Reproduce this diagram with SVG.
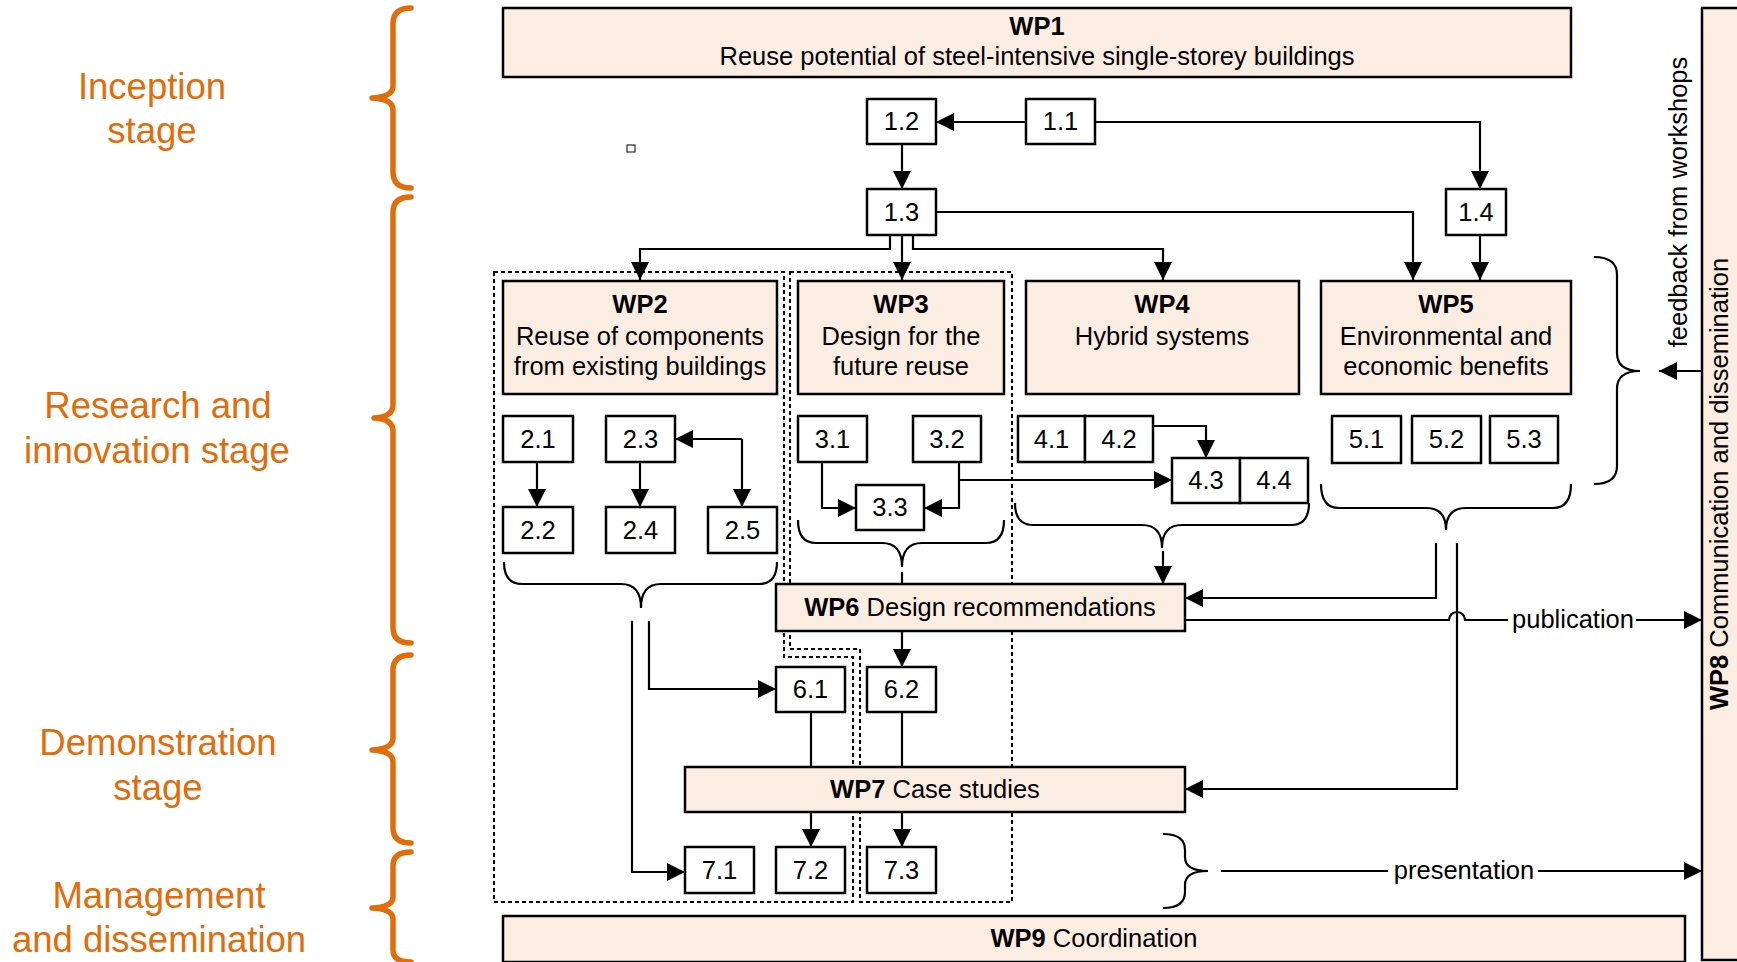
<svg xmlns="http://www.w3.org/2000/svg" width="1737" height="962" viewBox="0 0 1737 962">
<style>
.wp{fill:#FCEDE3;stroke:#000;stroke-width:2.5}
.bx{fill:#fff;stroke:#000;stroke-width:2.5}
.t{font-family:"Liberation Sans",Arial,sans-serif;font-size:25.5px;fill:#000;text-anchor:middle}
.b{font-weight:bold}
.ln{fill:none;stroke:#000;stroke-width:2.2}
.ar{marker-end:url(#ah)}
.dot{fill:none;stroke:#000;stroke-width:2;stroke-dasharray:4 3}
.or{fill:none;stroke:#E36C0A;stroke-width:5.5;stroke-linecap:round;stroke-linejoin:round}
.ot{font-family:"Liberation Sans",Arial,sans-serif;font-size:36.5px;fill:#E36C0A;text-anchor:middle}
</style>
<defs>
<marker id="ah" markerUnits="userSpaceOnUse" markerWidth="19" markerHeight="19" refX="18" refY="9" orient="auto">
<path d="M0,0 L18,9 L0,18 z" fill="#000"/>
</marker>
</defs>
<rect width="1737" height="962" fill="#fff"/>

<g id="stages">
<path class="or" d="M411,8 Q393,8 393,24 L393,86 Q393,97 372,98 Q393,99 393,110 L393,172 Q393,188 411,188"/>
<path class="or" d="M411,197 Q393,197 393,212 L393,405 Q393,417 374,418 Q393,419 393,431 L393,628 Q393,643 411,643"/>
<path class="or" d="M411,655 Q393,655 393,670 L393,738 Q393,749 372,750 Q393,751 393,762 L393,828 Q393,843 411,843"/>
<path class="or" d="M411,852 Q393,852 393,866 L393,897 Q393,907 372,908 Q393,909 393,919 L393,950 Q393,962 411,962"/>
<text class="ot" x="152" y="99">Inception</text>
<text class="ot" x="152" y="143">stage</text>
<text class="ot" x="158" y="418">Research and</text>
<text class="ot" x="157" y="463">innovation stage</text>
<text class="ot" x="158" y="755">Demonstration</text>
<text class="ot" x="158" y="800">stage</text>
<text class="ot" x="159" y="908">Management</text>
<text class="ot" x="159" y="952">and dissemination</text>
</g>

<g id="regions">
<path class="dot" d="M494,272 L784,272 L784,657 L853,657 L853,902 L494,902 Z"/>
<path class="dot" d="M790,272 L1012,272 L1012,902 L860,902 L860,649 L790,649 Z"/>
</g>

<rect x="627" y="145" width="8" height="7" fill="#fff" stroke="#000" stroke-width="1"/>

<g id="connectors">
<path class="ln ar" d="M1026,122 L936,122"/>
<path class="ln ar" d="M1095,122 L1480,122 L1480,189"/>
<path class="ln ar" d="M902,144 L902,189"/>
<path class="ln ar" d="M1480,235 L1480,280"/>
<path class="ln ar" d="M936,212 L1413,212 L1413,280"/>
<path class="ln ar" d="M890,235 L890,249 L640,249 L640,280"/>
<path class="ln ar" d="M902,235 L902,280"/>
<path class="ln ar" d="M913,235 L913,249 L1163,249 L1163,280"/>
<path class="ln ar" d="M537,462 L537,507"/>
<path class="ln ar" d="M640,462 L640,507"/>
<path class="ln ar" d="M742,439 L675,439"/>
<path class="ln ar" d="M742,439 L742,507"/>
<path class="ln ar" d="M822,462 L822,508 L856,508"/>
<path class="ln ar" d="M959,462 L959,508 L924,508"/>
<path class="ln ar" d="M959,480 L1172,480"/>
<path class="ln ar" d="M1153,426 L1206,426 L1206,458"/>
<path class="ln" d="M504,562 Q504,584 522,584 L621,584 Q641,584 641,608 Q641,584 661,584 L759,584 Q777,584 777,562"/>
<path class="ln" d="M798,520 Q798,543 816,543 L882,543 Q902,543 902,567 Q902,543 922,543 L986,543 Q1004,543 1004,520"/>
<path class="ln" d="M1015,503 Q1015,525 1033,525 L1142,525 Q1162,525 1162,548 Q1162,525 1182,525 L1291,525 Q1309,525 1309,503"/>
<path class="ln" d="M1321,484 Q1321,508 1339,508 L1426,508 Q1446,508 1446,530 Q1446,508 1466,508 L1553,508 Q1571,508 1571,484"/>
<path class="ln" d="M1594,257 Q1617,257 1617,275 L1617,353 Q1617,371 1640,371 Q1617,371 1617,389 L1617,466 Q1617,484 1594,484"/>
<path class="ln" d="M1163,834 Q1185,834 1185,850 L1185,857 Q1185,871 1208,871 Q1185,871 1185,885 L1185,892 Q1185,908 1163,908"/>
<path class="ln ar" d="M1702,371 L1659,371"/>
<path class="ln" d="M902,572 L902,584"/>
<path class="ln ar" d="M1163,551 L1163,584"/>
<path class="ln ar" d="M1436,543 L1436,598 L1185,598"/>
<path class="ln ar" d="M1457,543 L1457,789 L1185,789"/>
<path class="ln" d="M1185,620 L1449,620 A8,8 0 0 1 1465,620 L1508,620"/>
<path class="ln ar" d="M1636,620 L1702,620"/>
<path class="ln" d="M1221,871 L1388,871"/>
<path class="ln ar" d="M1538,871 L1702,871"/>
<path class="ln ar" d="M649,621 L649,689 L776,689"/>
<path class="ln ar" d="M632,621 L632,872 L685,872"/>
<path class="ln ar" d="M902,631 L902,667"/>
<path class="ln" d="M811,712 L811,767"/>
<path class="ln" d="M902,712 L902,767"/>
<path class="ln ar" d="M811,812 L811,847"/>
<path class="ln ar" d="M902,812 L902,847"/>
<text class="t" x="1573" y="628">publication</text>
<text class="t" x="1464" y="879">presentation</text>
<text class="t" transform="translate(1687,202) rotate(-90)">feedback from workshops</text>
</g>

<g id="WP1"><rect class="wp" x="503" y="8" width="1068" height="69"/><text class="t b" x="1037" y="35">WP1</text><text class="t" x="1037" y="65">Reuse potential of steel-intensive single-storey buildings</text></g>
<g id="WP2"><rect class="wp" x="503" y="281" width="274" height="113"/><text class="t b" x="640" y="313">WP2</text><text class="t" x="640" y="345">Reuse of components</text><text class="t" x="640" y="375">from existing buildings</text></g>
<g id="WP3"><rect class="wp" x="798" y="281" width="206" height="113"/><text class="t b" x="901" y="313">WP3</text><text class="t" x="901" y="345">Design for the</text><text class="t" x="901" y="375">future reuse</text></g>
<g id="WP4"><rect class="wp" x="1026" y="281" width="273" height="113"/><text class="t b" x="1162" y="313">WP4</text><text class="t" x="1162" y="345">Hybrid systems</text></g>
<g id="WP5"><rect class="wp" x="1321" y="281" width="250" height="113"/><text class="t b" x="1446" y="313">WP5</text><text class="t" x="1446" y="345">Environmental and</text><text class="t" x="1446" y="375">economic benefits</text></g>
<g id="WP6"><rect class="wp" x="776" y="584" width="409" height="47"/><text class="t" x="980" y="616"><tspan class="b">WP6</tspan> Design recommendations</text></g>
<g id="WP7"><rect class="wp" x="685" y="767" width="500" height="45"/><text class="t" x="935" y="798"><tspan class="b">WP7</tspan> Case studies</text></g>
<g id="WP8"><rect class="wp" x="1702" y="8" width="50" height="952"/><text class="t" transform="translate(1728,484) rotate(-90)"><tspan class="b">WP8</tspan> Communication and dissemination</text></g>
<g id="WP9"><rect class="wp" x="503" y="916" width="1182" height="46"/><text class="t" x="1094" y="947"><tspan class="b">WP9</tspan> Coordination</text></g>

<g id="T1.1"><rect class="bx" x="1026" y="99" width="69" height="45"/><text class="t" x="1060.5" y="130">1.1</text></g>
<g id="T1.2"><rect class="bx" x="867" y="99" width="69" height="45"/><text class="t" x="901.5" y="130">1.2</text></g>
<g id="T1.3"><rect class="bx" x="867" y="189" width="69" height="46"/><text class="t" x="901.5" y="221">1.3</text></g>
<g id="T1.4"><rect class="bx" x="1446" y="189" width="60" height="46"/><text class="t" x="1476" y="221">1.4</text></g>
<g id="T2.1"><rect class="bx" x="503" y="416" width="70" height="46"/><text class="t" x="538" y="448">2.1</text></g>
<g id="T2.3"><rect class="bx" x="606" y="416" width="69" height="46"/><text class="t" x="640.5" y="448">2.3</text></g>
<g id="T2.2"><rect class="bx" x="503" y="507" width="70" height="46"/><text class="t" x="538" y="539">2.2</text></g>
<g id="T2.4"><rect class="bx" x="606" y="507" width="69" height="46"/><text class="t" x="640.5" y="539">2.4</text></g>
<g id="T2.5"><rect class="bx" x="708" y="507" width="69" height="46"/><text class="t" x="742.5" y="539">2.5</text></g>
<g id="T3.1"><rect class="bx" x="798" y="416" width="69" height="46"/><text class="t" x="832.5" y="448">3.1</text></g>
<g id="T3.2"><rect class="bx" x="913" y="416" width="68" height="46"/><text class="t" x="947" y="448">3.2</text></g>
<g id="T3.3"><rect class="bx" x="856" y="485" width="68" height="45"/><text class="t" x="890" y="516">3.3</text></g>
<g id="T4.1"><rect class="bx" x="1018" y="416" width="67" height="46"/><text class="t" x="1051.5" y="448">4.1</text></g>
<g id="T4.2"><rect class="bx" x="1085" y="416" width="68" height="46"/><text class="t" x="1119" y="448">4.2</text></g>
<g id="T4.3"><rect class="bx" x="1172" y="458" width="68" height="45"/><text class="t" x="1206" y="489">4.3</text></g>
<g id="T4.4"><rect class="bx" x="1240" y="458" width="68" height="45"/><text class="t" x="1274" y="489">4.4</text></g>
<g id="T5.1"><rect class="bx" x="1332" y="416" width="69" height="47"/><text class="t" x="1366.5" y="448">5.1</text></g>
<g id="T5.2"><rect class="bx" x="1412" y="416" width="69" height="47"/><text class="t" x="1446.5" y="448">5.2</text></g>
<g id="T5.3"><rect class="bx" x="1490" y="416" width="68" height="47"/><text class="t" x="1524" y="448">5.3</text></g>
<g id="T6.1"><rect class="bx" x="776" y="667" width="69" height="45"/><text class="t" x="810.5" y="698">6.1</text></g>
<g id="T6.2"><rect class="bx" x="867" y="667" width="69" height="45"/><text class="t" x="901.5" y="698">6.2</text></g>
<g id="T7.1"><rect class="bx" x="685" y="847" width="69" height="46"/><text class="t" x="719.5" y="879">7.1</text></g>
<g id="T7.2"><rect class="bx" x="776" y="847" width="69" height="46"/><text class="t" x="810.5" y="879">7.2</text></g>
<g id="T7.3"><rect class="bx" x="867" y="847" width="69" height="46"/><text class="t" x="901.5" y="879">7.3</text></g>
</svg>
